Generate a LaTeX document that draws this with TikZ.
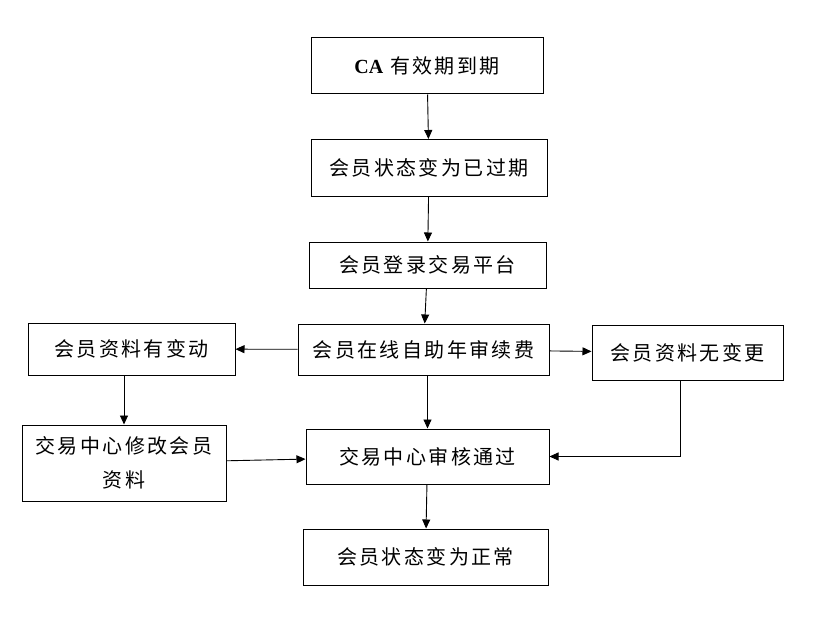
\documentclass[tikz,border=0pt]{standalone}
\usepackage{fontspec}
\setmainfont{Liberation Serif}
\newfontfamily\cjk[LetterSpace=12]{Noto Sans CJK SC}
\usetikzlibrary{arrows.meta}

\begin{document}
\begin{tikzpicture}[
    x=1pt, y=-1pt,
    stage/.style={rectangle, draw, line width=1pt, inner sep=0pt, text centered, align=center,
        font=\cjk\fontsize{20}{34}\selectfont},
    arrow/.style={-{Triangle[length=9pt, width=8pt]}, line width=0.9pt}
]
    \useasboundingbox (0,0) rectangle (831,642);

    % Main column
    \node[stage, minimum width=232pt, minimum height=56pt] (expiry) at (427,66)
        {{\normalfont\bfseries CA} 有效期到期};
    \node[stage, minimum width=236pt, minimum height=57pt] (expired) at (429,168)
        {会员状态变为已过期};
    \node[stage, minimum width=237pt, minimum height=46pt] (login) at (427.5,265)
        {会员登录交易平台};
    \node[stage, minimum width=251pt, minimum height=51pt] (renew) at (423.5,349.5)
        {会员在线自助年审续费};
    \node[stage, minimum width=243pt, minimum height=55pt] (audit) at (427.5,456.5)
        {交易中心审核通过};
    \node[stage, minimum width=245pt, minimum height=56pt] (normal) at (425.5,557)
        {会员状态变为正常};

    % Side branches
    \node[stage, minimum width=207pt, minimum height=52pt] (changed) at (131.5,349)
        {会员资料有变动};
    \node[stage, minimum width=204pt, minimum height=76pt] (modify) at (124,463)
        {交易中心修改会员\\资料};
    \node[stage, minimum width=191pt, minimum height=55pt] (nochange) at (687.5,352.5)
        {会员资料无变更};

    % Arrows
    \draw[arrow] (expiry) -- (expired);
    \draw[arrow] (expired) -- (login);
    \draw[arrow] (login) -- (renew);
    \draw[arrow] (renew) -- (changed);
    \draw[arrow] (renew) -- (nochange);
    \draw[arrow] (changed.south -| modify) -- (modify.north);
    \draw[arrow] (modify) -- (audit);
    \draw[arrow] (renew.south -| audit) -- (audit.north);
    \draw[arrow] ([xshift=-7pt]nochange.south) |- (audit.east);
    \draw[arrow] (audit) -- (normal);
\end{tikzpicture}
\end{document}
